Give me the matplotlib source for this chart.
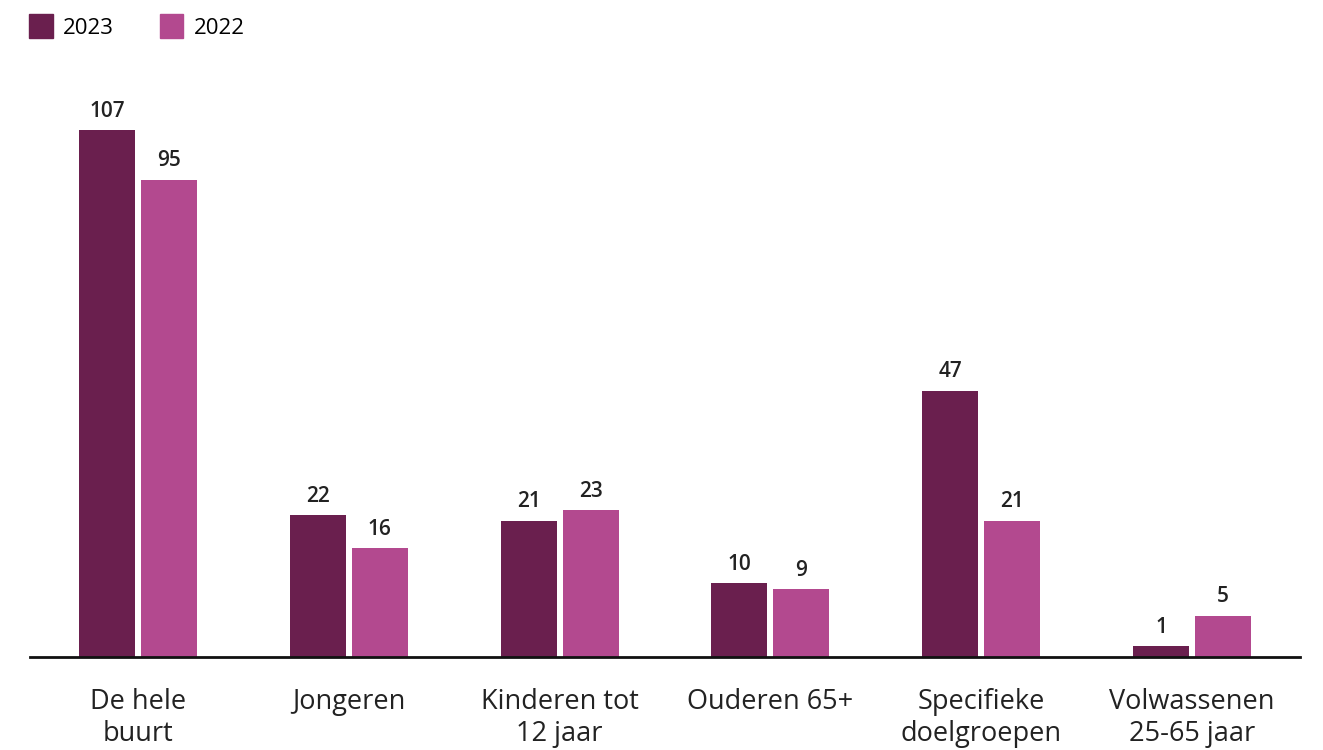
import numpy as np
import matplotlib
matplotlib.use('Agg')
import matplotlib.pyplot as plt
from matplotlib.patches import Patch

categories = ['De hele\nbuurt', 'Jongeren', 'Kinderen tot\n12 jaar', 'Ouderen 65+',
              'Specifieke\ndoelgroepen', 'Volwassenen\n25-65 jaar']
values_2023 = [107, 22, 21, 10, 47, 1]
values_2022 = [95, 16, 23, 9, 21, 5]

dark = '#6A1F4E'
light = '#B3498F'

plt.rcParams['font.family'] = ['Open Sans', 'DejaVu Sans']

# the original bars are not drawn on a linear scale, a mild power scale fits best
p = 0.83
def fwd(v):
    return np.sign(v) * np.abs(v) ** p
def inv(v):
    return np.sign(v) * np.abs(v) ** (1 / p)

fig = plt.figure(figsize=(13.23, 7.5), dpi=100)
ax = fig.add_axes([30 / 1323, 93 / 750, 1270 / 1323, 557 / 750])
ax.set_yscale('function', functions=(fwd, inv))

x = np.arange(len(categories))
w = 0.266
off = 0.147
b1 = ax.bar(x - off, values_2023, w, color=dark)
b2 = ax.bar(x + off, values_2022, w, color=light)

for bars, vals in ((b1, values_2023), (b2, values_2022)):
    for b, v in zip(bars, vals):
        ax.annotate(str(v), (b.get_x() + b.get_width() / 2, v), xytext=(0, 6),
                    textcoords='offset points', ha='center', va='bottom',
                    fontsize=15, fontweight='semibold', color='#222222')

ymax = inv(fwd(107) * 557 / 527)
ax.set_ylim(0, ymax)
ax.set_xlim(-0.512, 5.512)

ax.set_xticks(x)
ax.set_xticklabels(categories, fontsize=19.5, color='#222222', linespacing=1.2)
ax.tick_params(axis='x', length=0, pad=22)
ax.set_yticks([])
for s in ['top', 'right', 'left']:
    ax.spines[s].set_visible(False)
ax.spines['bottom'].set_linewidth(2)
ax.spines['bottom'].set_color('#111111')

handles = [Patch(color=dark, label='2023'), Patch(color=light, label='2022')]
fig.legend(handles=handles, loc='upper left', bbox_to_anchor=(0.007, 1.008), ncol=2,
           frameon=False, fontsize=16, handlelength=1.05, handleheight=1.3,
           handletextpad=0.45, columnspacing=2.1)

fig.savefig('out.png', dpi=100)
